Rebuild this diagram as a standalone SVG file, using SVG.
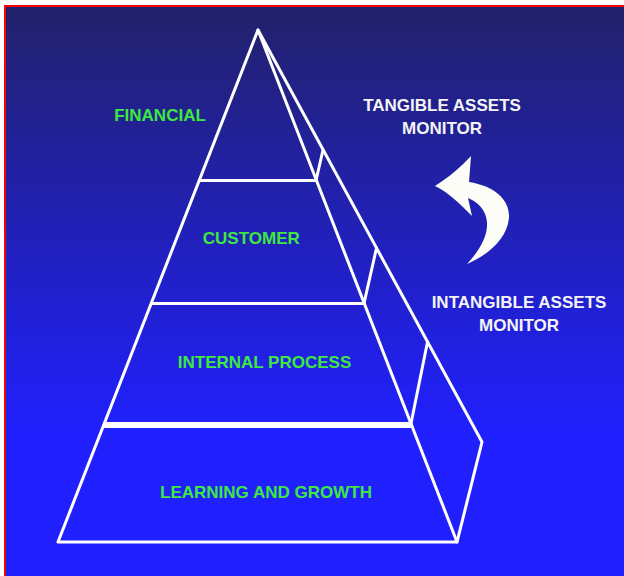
<svg xmlns="http://www.w3.org/2000/svg" width="624" height="576" viewBox="0 0 624 576">
  <defs>
    <linearGradient id="bg" x1="0" y1="7" x2="0" y2="576" gradientUnits="userSpaceOnUse">
      <stop offset="0" stop-color="#22216a"/>
      <stop offset="0.75" stop-color="#2020ff"/>
      <stop offset="1" stop-color="#2020ff"/>
    </linearGradient>
    <style>
      .edge { stroke: #ffffff; stroke-width: 3; fill: none; stroke-linecap: round; stroke-linejoin: round; }
      .lbl { font-family: "Liberation Sans", Arial, sans-serif; font-weight: bold; font-size: 17px; text-anchor: middle; }
      .green { fill: #3ee83e; }
      .white { fill: #f4f4f4; }
    </style>
  </defs>

  <!-- frame and background -->
  <rect x="0" y="0" width="624" height="576" fill="#ffffff"/>
  <rect x="6" y="7" width="618" height="569" fill="url(#bg)"/>
  <rect x="4" y="5" width="620" height="2" fill="#ff0000"/>
  <rect x="4" y="5" width="2" height="571" fill="#ff0000"/>

  <!-- pyramid outline -->
  <g id="pyramid-frame">
    <path class="edge" d="M258,30 L58,542 L457,542 Z"/>
    <path class="edge" d="M258,30 L482,442 L457,542"/>
  </g>

  <g id="financial">
    <line class="edge" x1="199.5" y1="180.5" x2="316" y2="180.5" stroke-width="4"/>
    <line class="edge" x1="316" y1="180.5" x2="323" y2="150"/>
    <text class="lbl green" x="160" y="120.5">FINANCIAL</text>
  </g>

  <g id="customer">
    <line class="edge" x1="151.5" y1="303.5" x2="364" y2="303.5"/>
    <line class="edge" x1="364" y1="303.5" x2="376.5" y2="248"/>
    <text class="lbl green" x="251.3" y="244">CUSTOMER</text>
  </g>

  <g id="internal-process">
    <line class="edge" x1="104.5" y1="423.5" x2="411" y2="423.5"/>
    <line class="edge" x1="411" y1="423.5" x2="427.5" y2="342"/>
    <text class="lbl green" x="264.5" y="367.5">INTERNAL PROCESS</text>
  </g>

  <g id="learning-growth">
    <line class="edge" x1="103.5" y1="426.5" x2="412" y2="426.5"/>
    <text class="lbl green" x="266" y="498">LEARNING AND GROWTH</text>
  </g>

  <g id="tangible-assets-monitor">
    <text class="lbl white" x="442" y="111">TANGIBLE ASSETS</text>
    <text class="lbl white" x="442" y="134">MONITOR</text>
  </g>

  <g id="intangible-assets-monitor">
    <text class="lbl white" x="519" y="308">INTANGIBLE ASSETS</text>
    <text class="lbl white" x="519" y="330.5">MONITOR</text>
  </g>

  <g id="connectors">
    <path id="curved-arrow" fill="#fdfdf8" d="M435,186 C448,178 462,166 471,156 L469,182 C495,186 510,200 509,218 C507,238 490,254 467,264 C480,250 488,236 487,222 C486,210 478,202 468,198 L472,216 C460,204 448,192 435,186 Z"/>
  </g>
</svg>
